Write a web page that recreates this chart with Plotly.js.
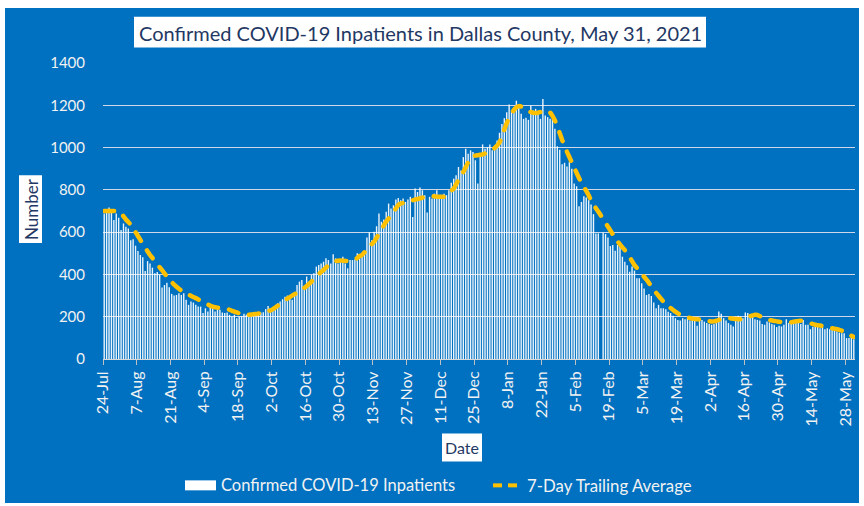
<!DOCTYPE html>
<html>
<head>
<meta charset="utf-8">
<script src="https://cdn.plot.ly/plotly-3.0.1.min.js"></script>
<style>
  html, body { margin: 0; padding: 0; background: #ffffff; }
  #chart { position: absolute; left: 5px; top: 8px; width: 854px; height: 495px; }
  .scatterlayer .js-line { stroke-linecap: round; }
</style>
</head>
<body>
<div id="chart"></div>
<script>
// ---------------- DATA ----------------
const startDate = '2020-07-24';   // first day of the series
const chartTitle = 'Confirmed COVID-19 Inpatients in Dallas County, May 31, 2021';
const seriesNames = ['Confirmed COVID-19 Inpatients', '7-Day Trailing Average'];
const xTitle = 'Date';
const yTitle = 'Number';

// Daily confirmed COVID-19 inpatients (24-Jul-2020 .. 31-May-2021)
const inpatients = [
  688,696,717,696,657,688,668,610,641,625,
  617,562,566,536,511,492,481,416,463,452,
  432,405,412,398,338,350,361,339,308,300,
  303,311,303,311,280,256,272,267,256,248,
  248,217,240,225,256,251,225,240,233,220,
  217,220,209,201,209,193,201,204,214,210,205,
  204,206,212,217,220,221,236,251,239,245,
  248,264,272,283,295,300,287,280,314,350,
  366,374,346,390,366,397,405,437,445,452,
  460,476,468,452,496,476,452,460,484,452,
  429,468,468,471,500,476,484,507,575,599,
  562,602,628,688,649,660,696,735,712,727,754,762,
  751,759,743,754,767,672,806,790,811,798,
  775,693,767,759,782,798,775,759,782,775,
  798,834,853,869,908,892,955,995,971,987,
  979,940,830,963,1015,995,1002,1015,987,1010,
  1034,1070,1112,1139,1167,1204,1178,1191,1222,1199,
  1160,1136,1141,1131,1199,1175,1183,1160,1136,1230,1152,1144,
  1136,1136,1089,1006,990,921,928,911,931,900,
  830,817,723,743,770,764,751,731,685,594,594,
  null,
  597,591,575,534,539,512,539,531,484,460,
  444,413,437,418,382,382,358,334,303,308,
  298,267,240,256,240,240,235,224,217,204,
  193,185,182,193,188,193,182,193,185,157,182,
  185,177,170,166,162,166,188,225,214,193,182,170,162,154,201,204,
  201,193,220,217,201,198,188,185,182,166,162,177,173,166,162,151,
  157,154,162,188,170,166,170,182,177,166,185,162,162,141,151,151,
  154,146,151,141,146,141,138,135,130,125,122,122,99,99,104,94
];

// 7-day trailing average
const trailingAvg = [
  700,700,700,700,700,700,700,
  690,675,660,648,635,  618,600,582,563,545,  527,509,492,478,463,
  449,434,420,405,390,  376,364,352,342,332,  324,318,311,305,299,
  293,288,282,276,270,  264,258,252,248,245,  243,242,241,240,237,
  233,228,224,220,216,  212,210,209,209,210,  212,213,215,217,220,
  223,227,230,236,244,  252,261,270,278,286,  293,300,307,313,319,
  327,336,345,355,366,  378,390,401,412,421,  432,443,452,459,463,
  465,466,465,464,463,  463,465,470,478,487,  492,505,518,531,543,
  555,573,593,612,632,  650,665,680,695,712,  728,735,738,741,744,
  748,751,754,757,760,  763,766,769,771,770,  769,768,767,767,768,
  775,785,796,806,826,  848,866,885,907,931,  950,958,962,964,966,
  968,972,977,982,988,  998,1010,1025,1050,1085, 1115,1142,1160,1178,1190,
  1196,1194,1186,1178,1172, 1168,1165,1164,1165,1168, 1171,1173,1172,1166,1150,
  1128,1100,1068,1036,1008, 980,955,930,905,880,  856,834,814,795,774,
  750,731,713,697,680,  662,644,626,608,590,  570,556,542,528,515,
  498,481,463,444,431,  417,403,389,375,360,  343,327,313,299,285,
  272,262,251,241,232,  224,216,209,205,201,  197,194,191,189,188,
  187,186,184,181,179,  177,178,181,185,189,  192,193,193,192,190,
  189,188,188,190,194,  199,203,206,209,208,  203,197,192,187,184,
  182,180,178,176,175,  174,173,173,174,176,  178,180,181,180,177,
  173,169,165,162,160,  158,156,153,150,147,  145,143,141,138,134,
  129,123,116,110,104
];

const yTickVals = [0,200,400,600,800,1000,1200,1400];

// ---------------- BUILD ----------------
function dayString(i) {
  const d = new Date(startDate + 'T00:00:00Z');
  d.setUTCDate(d.getUTCDate() + i);
  return d.toISOString().slice(0, 10) + ' 12:00';
}
const dates = inpatients.map((_, i) => dayString(i));

// page-pixel -> paper coordinates (plot area: x 103..855, y 62.5..359.3 in page px)
const OX = 5, OY = 8, OW = 854, OH = 495;
const PL = 103, PR = 855, PT = 62.5, PB = 359.3;
const px = x => (x - PL) / (PR - PL);
const py = y => (PB - y) / (PB - PT);

const BLUE = '#0070C0';
const NAVY = '#1F3864';
const FONT = 'Lato, "Open Sans", sans-serif';
const LIGHT = '#F2F2F2';

const traces = [
  {
    type: 'bar', x: dates, y: inpatients, name: seriesNames[0],
    marker: { color: 'rgba(255,255,255,0.92)', line: { width: 0 } },
    hoverinfo: 'x+y'
  },
  {
    type: 'scatter', mode: 'lines', x: dates, y: trailingAvg, name: seriesNames[1],
    line: { color: '#FFC000', width: 4.5, dash: '10px,11px', shape: 'spline', smoothing: 0.6 }
  }
];

const layout = {
  width: OW, height: OH,
  paper_bgcolor: BLUE, plot_bgcolor: BLUE,
  margin: { l: PL - OX, r: OX + OW - PR, t: PT - OY, b: OY + OH - PB, pad: 0 },
  showlegend: false,
  bargap: 0.42,
  font: { family: FONT, color: LIGHT, size: 14 },
  xaxis: {
    type: 'date',
    range: ['2020-07-24', '2021-06-01'],
    tickmode: 'linear', tick0: '2020-07-24', dtick: 14 * 86400000,
    tickformat: '%-d-%b', tickangle: -90,
    tickfont: { family: FONT, size: 16, color: LIGHT },
    ticks: 'outside', ticklen: 5, tickcolor: '#BFBFBF', tickwidth: 1,
    showgrid: false, showline: true, linecolor: '#D9D9D9', linewidth: 1,
    zeroline: false, fixedrange: true
  },
  yaxis: {
    range: [0, 1400], tickvals: yTickVals,
    tickfont: { family: FONT, size: 15, color: LIGHT },
    ticks: '', ticklabelstandoff: 17,
    showgrid: true, gridcolor: '#D0D8E8', gridwidth: 1,
    zeroline: false, showline: false, fixedrange: true
  },
  shapes: [
    // title box
    { type: 'rect', xref: 'paper', yref: 'paper', x0: px(134), x1: px(706), y0: py(47), y1: py(16),
      fillcolor: '#FFFFFF', line: { width: 0 } },
    // y title box
    { type: 'rect', xref: 'paper', yref: 'paper', x0: px(19), x1: px(42), y0: py(243), y1: py(175),
      fillcolor: '#FFFFFF', line: { width: 0 } },
    // x title box
    { type: 'rect', xref: 'paper', yref: 'paper', x0: px(442), x1: px(482), y0: py(462), y1: py(434),
      fillcolor: '#FFFFFF', line: { width: 0 } },
    // legend: bar swatch
    { type: 'rect', xref: 'paper', yref: 'paper', x0: px(185), x1: px(216), y0: py(491), y1: py(481),
      fillcolor: '#FFFFFF', line: { width: 0 } },
    // legend: dashed swatch
    { type: 'line', xref: 'paper', yref: 'paper', x0: px(493), x1: px(502), y0: py(486), y1: py(486),
      line: { color: '#FFC000', width: 4 } },
    { type: 'line', xref: 'paper', yref: 'paper', x0: px(508), x1: px(517), y0: py(486), y1: py(486),
      line: { color: '#FFC000', width: 4 } }
  ],
  annotations: [
    { text: chartTitle, xref: 'paper', yref: 'paper', x: px(420), y: py(32), showarrow: false,
      xanchor: 'center', yanchor: 'middle', font: { family: FONT, size: 20, color: NAVY } },
    { text: yTitle, xref: 'paper', yref: 'paper', x: px(31), y: py(209), showarrow: false, textangle: -90,
      xanchor: 'center', yanchor: 'middle', font: { family: FONT, size: 17, color: NAVY } },
    { text: xTitle, xref: 'paper', yref: 'paper', x: px(462), y: py(448), showarrow: false,
      xanchor: 'center', yanchor: 'middle', font: { family: FONT, size: 16, color: NAVY } },
    { text: seriesNames[0], xref: 'paper', yref: 'paper', x: px(219), y: py(486), showarrow: false,
      xanchor: 'left', yanchor: 'middle', font: { family: FONT, size: 16.5, color: LIGHT } },
    { text: seriesNames[1], xref: 'paper', yref: 'paper', x: px(525), y: py(486), showarrow: false,
      xanchor: 'left', yanchor: 'middle', font: { family: FONT, size: 16.8, color: LIGHT } }
  ]
};

Plotly.newPlot('chart', traces, layout, { displayModeBar: false, staticPlot: true });
</script>
</body>
</html>
